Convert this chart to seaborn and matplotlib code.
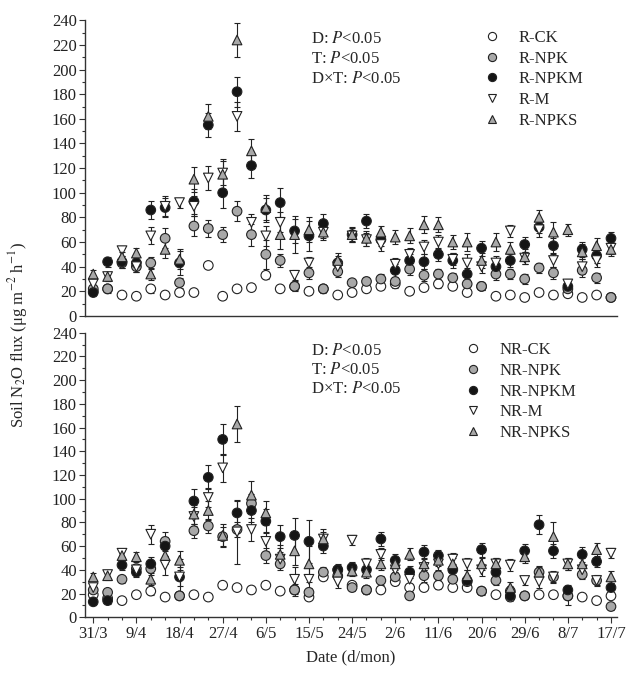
import pandas as pd
import numpy as np
import matplotlib
matplotlib.use("Agg")
import matplotlib.pyplot as plt
from matplotlib.ticker import MultipleLocator
import seaborn as sns

# sampling day (days after 31/3), every 3 days
days = [0, 3, 6, 9, 12, 15, 18, 21, 24, 27, 30, 33, 36, 39, 42, 45, 48, 51, 54,
        57, 60, 63, 66, 69, 72, 75, 78, 81, 84, 87, 90, 93, 96, 99, 102, 105, 108]
tick_days = [0, 9, 18, 27, 36, 45, 54, 63, 72, 81, 90, 99, 108]
tick_labels = ["31/3", "9/4", "18/4", "27/4", "6/5", "15/5", "24/5", "2/6",
               "11/6", "20/6", "29/6", "8/7", "17/7"]

# ---- top panel (R) ----
r_ck = [20, 22, 17, 16, 22, 17, 19, 19, 41, 16, 22, 23, 33, 22, 24, 20, 22, 17, 19,
        22, 24, 26, 20, 23, 26, 24, 19, 24, 16, 17, 15, 19, 17, 18, 15, 17, 15]
r_npk = [22, 22, 43, 40, 43, 63, 27, 73, 71, 66, 85, 66, 50, 45, 24, 35, 22, 36, 27,
         28, 30, 28, 38, 33, 34, 31, 26, 24, 34, 34, 30, 39, 35, 22, 37, 31, 15]
r_npkm = [19, 44, 44, 43, 86, 88, 43, 93, 155, 100, 182, 122, 86, 92, 69, 65, 75, 43, 66,
          77, 62, 37, 45, 44, 50, 45, 34, 55, 40, 45, 58, 72, 57, 24, 54, 49, 63]
r_m = [26, 32, 53, 40, 65, 89, 92, 89, 112, 116, 162, 76, 65, 76, 33, 43, 68, 40, 65,
       62, 58, 42, 50, 56, 60, 46, 43, 40, 43, 69, 47, 70, 45, 26, 40, 45, 55]
r_npks = [34, 32, 48, 51, 34, 54, 46, 111, 162, 115, 224, 134, 88, 66, 66, 70, 68, 45, 66,
          63, 68, 64, 65, 74, 74, 60, 60, 45, 60, 54, 48, 80, 68, 70, 52, 57, 54]

r_ck_err = [2, 2, 2, 2, 3, 2, 2, 2, 2, 2, 2, 2, 3, 2, 3, 2, 2, 2, 2,
            2, 2, 3, 2, 2, 3, 2, 2, 3, 2, 2, 2, 2, 2, 2, 2, 2, 2]
r_npk_err = [3, 3, 4, 4, 5, 8, 4, 8, 7, 6, 8, 9, 12, 5, 4, 5, 3, 4, 3,
             4, 4, 3, 5, 5, 4, 4, 4, 3, 5, 4, 4, 4, 5, 3, 5, 4, 2]
r_npkm_err = [3, 4, 5, 5, 7, 8, 10, 10, 10, 12, 12, 10, 10, 12, 10, 12, 8, 6, 5,
              6, 5, 5, 5, 6, 5, 6, 5, 6, 6, 5, 6, 5, 6, 4, 6, 6, 5]
r_m_err = [3, 4, 4, 4, 7, 8, 4, 8, 10, 10, 12, 7, 8, 8, 4, 5, 5, 5, 5,
           5, 5, 5, 5, 6, 6, 5, 7, 5, 6, 5, 5, 6, 5, 4, 6, 5, 5]
r_npks_err = [3, 4, 4, 4, 5, 7, 8, 10, 10, 12, 14, 10, 10, 12, 15, 10, 6, 6, 6,
              6, 5, 6, 6, 7, 6, 6, 7, 6, 7, 6, 6, 6, 8, 5, 6, 6, 5]

# ---- bottom panel (NR) ----
nr_ck = [19, 16, 14, 19, 22, 17, 18, 19, 17, 27, 25, 23, 27, 22, 23, 17, 34, 35, 27,
         23, 23, 30, 25, 25, 27, 25, 25, 22, 19, 17, 18, 19, 19, 18, 17, 14, 18]
nr_npk = [23, 21, 32, 41, 41, 64, 18, 73, 77, 68, 74, 96, 52, 45, 23, 21, 38, 40, 25,
          23, 31, 34, 18, 35, 35, 32, 30, 22, 31, 22, 18, 38, 34, 18, 36, 31, 9]
nr_npkm = [13, 14, 44, 38, 45, 60, 34, 98, 118, 150, 88, 90, 81, 68, 69, 64, 60, 40, 42,
           40, 66, 48, 38, 55, 52, 40, 31, 57, 38, 18, 56, 78, 56, 23, 53, 47, 25]
nr_m = [25, 36, 54, 40, 70, 44, 34, 85, 101, 126, 72, 74, 64, 49, 32, 32, 66, 30, 65,
        45, 53, 40, 32, 42, 45, 49, 45, 40, 45, 44, 31, 30, 34, 45, 40, 31, 54]
nr_npks = [34, 35, 52, 51, 32, 52, 48, 87, 90, 69, 163, 103, 88, 53, 56, 45, 66, 38, 39,
           38, 45, 45, 53, 45, 48, 45, 35, 45, 45, 25, 51, 38, 68, 45, 45, 57, 34]

nr_ck_err = [2, 2, 2, 2, 3, 2, 2, 2, 2, 2, 2, 2, 2, 2, 3, 2, 3, 3, 2,
             2, 2, 3, 2, 2, 3, 2, 2, 2, 2, 2, 2, 2, 2, 2, 2, 2, 2]
nr_npk_err = [3, 3, 3, 4, 5, 8, 3, 6, 6, 8, 6, 8, 6, 5, 5, 4, 4, 4, 3,
              3, 4, 4, 3, 5, 4, 4, 4, 3, 4, 4, 3, 4, 4, 8, 4, 4, 3]
nr_npkm_err = [3, 3, 4, 4, 6, 8, 8, 10, 10, 13, 10, 10, 10, 10, 15, 18, 6, 5, 5,
               5, 6, 5, 5, 6, 5, 5, 5, 6, 5, 4, 6, 8, 6, 4, 6, 5, 4]
nr_m_err = [3, 4, 3, 4, 8, 8, 15, 8, 8, 12, 27, 10, 8, 6, 10, 10, 6, 5, 4,
            5, 5, 5, 4, 5, 5, 5, 5, 5, 5, 5, 4, 5, 5, 5, 5, 5, 4]
nr_npks_err = [3, 4, 4, 4, 5, 7, 8, 8, 8, 10, 15, 12, 10, 8, 12, 15, 8, 5, 4,
               5, 5, 5, 5, 5, 5, 5, 5, 5, 5, 5, 5, 5, 12, 5, 5, 6, 5]

colors = ["white", "#a8a8a8", "#151515", "white", "#a8a8a8"]
markers = ["o", "o", "o", "v", "^"]


def draw_panel(ax, prefix, series, errors, text_x, leg_x):
    names = [prefix + "-CK", prefix + "-NPK", prefix + "-NPKM", prefix + "-M", prefix + "-NPKS"]
    frames = []
    for name, vals, errs in zip(names, series, errors):
        ax.errorbar(days, vals, yerr=errs, fmt="none", ecolor="#222222",
                    elinewidth=0.8, capsize=2.5, capthick=0.8, zorder=2, clip_on=False)
        frames.append(pd.DataFrame({"day": days, "flux": vals, "trt": name}))
    df = pd.concat(frames, ignore_index=True)
    sns.scatterplot(data=df, x="day", y="flux", hue="trt", style="trt",
                    hue_order=names, style_order=names,
                    palette=dict(zip(names, colors)), markers=dict(zip(names, markers)),
                    s=48, edgecolor="#222222", linewidth=0.8, ax=ax, zorder=3, clip_on=False)
    sns.move_legend(ax, "upper left", bbox_to_anchor=(leg_x, 0.99), frameon=False,
                    title=None, fontsize=12, handletextpad=0.6, labelspacing=0.28,
                    borderaxespad=0, markerscale=0.85)
    for k, lab in enumerate(["D: $P$<0.05", "T: $P$<0.05", "D\u00d7T: $P$<0.05"]):
        ax.text(text_x, 0.965 - k * 0.068, lab, transform=ax.transAxes,
                fontsize=12, va="top", ha="left")
    ax.set_ylim(0, 240)
    ax.yaxis.set_major_locator(MultipleLocator(20))
    ax.yaxis.set_minor_locator(MultipleLocator(10))
    ax.set_xlabel("")
    ax.set_ylabel("")


sns.set_theme(style="ticks")
plt.rcParams["font.family"] = ["Liberation Serif", "DejaVu Serif"]
plt.rcParams["mathtext.fontset"] = "stix"

fig = plt.figure(figsize=(6.35, 6.99), dpi=100)
ax_top = fig.add_axes([0.134, 0.548, 0.838, 0.423])
ax_bot = fig.add_axes([0.134, 0.117, 0.838, 0.407], sharex=ax_top)

draw_panel(ax_top, "R", [r_ck, r_npk, r_npkm, r_m, r_npks],
           [r_ck_err, r_npk_err, r_npkm_err, r_m_err, r_npks_err], 0.425, 0.72)
draw_panel(ax_bot, "NR", [nr_ck, nr_npk, nr_npkm, nr_m, nr_npks],
           [nr_ck_err, nr_npk_err, nr_npkm_err, nr_m_err, nr_npks_err], 0.425, 0.685)

ax_bot.set_xlim(-1.7, 109.3)
ax_bot.set_xticks(tick_days)
ax_bot.set_xticklabels(tick_labels)
ax_bot.xaxis.set_minor_locator(MultipleLocator(3))
ax_top.tick_params(axis="x", which="both", bottom=False, labelbottom=False)

for ax in (ax_top, ax_bot):
    sns.despine(ax=ax)
    for sp in ax.spines.values():
        sp.set_color("#333333")
        sp.set_linewidth(1.0)
    ax.tick_params(which="major", length=4, width=0.8, colors="#333333",
                   labelsize=12, pad=2)
    ax.tick_params(which="minor", length=2.5, width=0.8, colors="#333333")
    ax.tick_params(labelcolor="#222222")

ax_bot.set_xlabel("Date (d/mon)", fontsize=12, labelpad=6)
fig.text(0.028, 0.52, "Soil N$_2$O flux (\u03bcg m$^{-2}$ h$^{-1}$)", rotation=90,
         ha="center", va="center", fontsize=12)

fig.savefig("out.png", dpi=100)
